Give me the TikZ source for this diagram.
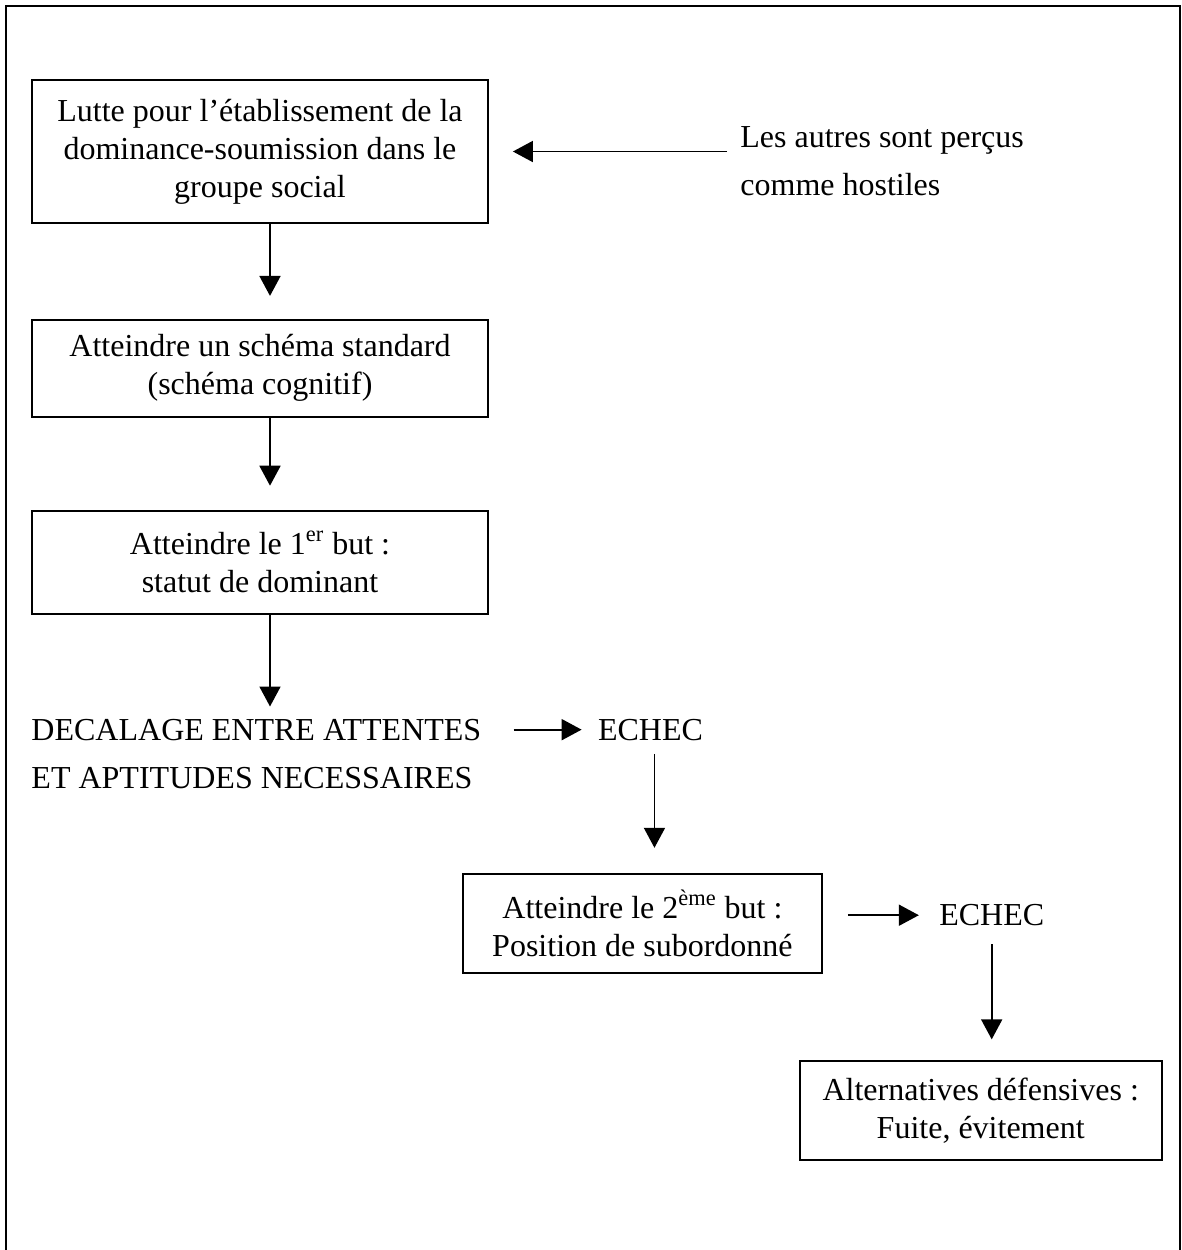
\documentclass[tikz,border=0pt]{standalone}
\usepackage{fontspec}
\setmainfont{Liberation Serif}
\usetikzlibrary{arrows.meta,positioning}

\begin{document}
\begin{tikzpicture}[
  x=0.5pt, y=-0.5pt,
  node distance=47.5pt,
  box/.style={draw, line width=0.9pt, align=center, inner sep=0pt,
    font=\fontsize{16}{19}\selectfont},
  freetext/.style={align=left, inner sep=0pt, font=\fontsize{16}{24}\selectfont},
  arrow/.style={-{Triangle[length=10pt,width=10.5pt]}, line width=0.9pt}
]
  \useasboundingbox (0,0) rectangle (1182,1250);
  \draw[line width=1pt] (6,1250) -- (6,6) -- (1180,6) -- (1180,1250);

  \node[box, minimum width=228pt, minimum height=71.5pt] (lutte) at (260,151.5)
    {Lutte pour l’établissement de la\\dominance-soumission dans le\\groupe social};
  \node[box, minimum width=228pt, minimum height=48.5pt, below=of lutte] (schema)
    {Atteindre un schéma standard\\(schéma cognitif)};
  \node[box, minimum width=228pt, minimum height=51.5pt, below=46pt of schema] (premier)
    {Atteindre le 1\textsuperscript{er} but :\\statut de dominant};

  \node[freetext, anchor=west] (hostiles) at (740,161.5)
    {Les autres sont perçus\\comme hostiles};

  \node[freetext, below right=52pt and 0pt of premier.south west] (decalage)
    {DECALAGE ENTRE ATTENTES\\ET APTITUDES NECESSAIRES};
  \node[freetext, below right=0pt and 58pt of decalage.north east] (echec1) {ECHEC};

  \node[box, minimum width=179.5pt, minimum height=49.5pt, below=66pt of echec1, xshift=-4pt] (second)
    {Atteindre le 2\textsuperscript{ème} but :\\Position de subordonné};
  \node[freetext, right=58pt of second, yshift=4pt] (echec2) {ECHEC};
  \node[box, minimum width=181pt, minimum height=49.5pt, below=67pt of echec2, xshift=-5.5pt] (defense)
    {Alternatives défensives :\\Fuite, évitement};

  \draw[arrow, shorten >=11.5pt] ([xshift=5pt]lutte.south) -- ([xshift=5pt]schema.north);
  \draw[arrow, shorten >=12pt] ([xshift=5pt]schema.south) -- ([xshift=5pt]premier.north);
  \draw[arrow, shorten >=6pt] ([xshift=5pt]premier.south) -- ([xshift=5pt]premier.south |- decalage.north);
  \draw[arrow, shorten <=6.5pt, shorten >=12pt] (lutte.east -| hostiles.west) -- (lutte.east);
  \draw[arrow, shorten <=16pt, shorten >=8pt] (decalage.east |- echec1.west) -- (echec1.west);
  \draw[arrow, shorten <=6.5pt, shorten >=12.5pt] ([xshift=2pt]echec1.south) -- ([xshift=2pt]echec1.south |- second.north);
  \draw[arrow, shorten <=12.5pt, shorten >=10pt] (second.east |- echec2.west) -- (echec2.west);
  \draw[arrow, shorten <=9pt, shorten >=10.5pt] (echec2.south) -- (echec2.south |- defense.north);
\end{tikzpicture}
\end{document}
